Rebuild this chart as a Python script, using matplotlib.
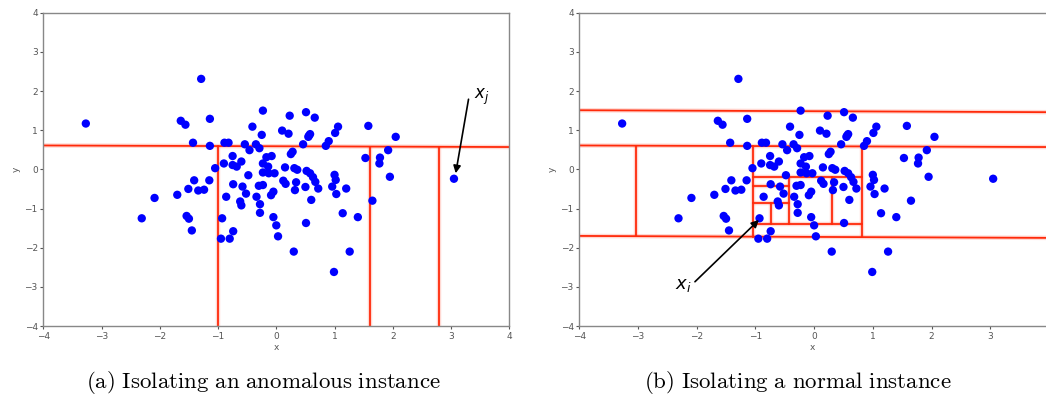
import numpy as np
import matplotlib.pyplot as plt

plt.rcParams['mathtext.fontset'] = 'dejavusans'

# Puntos (mismos en ambos paneles)
x = [-3.27, -1.29, -1.64, -1.56, -1.14, -1.43, -1.14, -0.89, -0.82, -0.54,
     -0.41, -0.46, -0.35, -0.29, -0.25, -0.23, 0.10, 0.21, 0.23, 0.51,
     0.66, 0.55, 0.58, 0.56, 0.46, 0.85, 0.90, 1.01, 1.06, 1.58,
     2.05, 1.92,
     1.53, 1.78, 1.77, 1.95, 1.65, 3.05, 1.00, 1.02, 0.96, 1.03,
     1.20, 1.14, 1.40, 1.26, 0.99,
     0.28, 0.25, -1.05, -0.90, -0.75, -0.75, -0.68, -0.60, -0.48, -0.17,
     -0.08, -0.23, -0.14, -0.23, -0.13, -0.03, 0.15, 0.31, 0.36, 0.12,
     0.16, 0.34, 0.32, 0.50, 0.52, 0.58, 0.63, 0.67, 0.72, 0.60,
     0.51, -0.74, -0.58, -0.52, -0.62, -0.60, -0.86, -0.34, -0.28, -0.28,
     -0.23, -0.30, -0.05, -0.09, -0.05, 0.00, 0.03, 0.30,
     -1.41, -1.15, -1.51, -1.34, -1.24, -1.70, -2.09, -2.31, -1.54, -1.50,
     -1.45, -0.93, -0.95, -0.80, -0.74]
y = [1.17, 2.31, 1.24, 1.14, 1.29, 0.68, 0.60, 0.68, 0.68, 0.64,
     1.09, 0.49, 0.64, 0.54, 0.88, 1.50, 0.99, 0.91, 1.37, 1.46,
     1.32, 0.83, 0.90, 0.86, 0.64, 0.60, 0.72, 0.93, 1.09, 1.11,
     0.83, 0.49,
     0.29, 0.30, 0.15, -0.19, -0.80, -0.24, -0.14, -0.27, -0.44, -0.63,
     -0.49, -1.12, -1.22, -2.10, -2.62,
     0.45, 0.39, 0.03, 0.15, 0.34, 0.11, 0.07, 0.20, -0.15, 0.31,
     0.34, 0.15, 0.07, -0.08, -0.10, -0.10, 0.05, 0.03, -0.01, -0.29,
     -0.37, -0.33, -0.53, -0.45, -0.04, -0.10, -0.20, -0.32, -0.49, -0.78,
     -1.37, -0.38, -0.44, -0.62, -0.82, -0.92, -0.70, -0.70, -0.89, -1.11,
     -0.40, -0.42, -0.57, -0.66, -1.22, -1.43, -1.71, -2.10,
     -0.28, -0.28, -0.50, -0.54, -0.52, -0.65, -0.73, -1.25, -1.19, -1.26,
     -1.56, -1.25, -1.77, -1.77, -1.58]

# Cortes del arbol (x0, y0, x1, y1)
cortes_a = [(-4, 0.61, 4, 0.57),
            (-1.0, -4, -1.0, 0.60),
            (1.6, -4, 1.6, 0.58),
            (2.8, -4, 2.8, 0.58)]
cortes_b = [(-4, 1.51, 3.95, 1.46),
            (-4, 0.61, 3.95, 0.57),
            (-4, -1.70, 3.95, -1.75),
            (-3.03, 0.60, -3.03, -1.71),
            (-1.04, 0.60, -1.04, -1.72),
            (0.82, 0.59, 0.82, -1.72),
            (-1.04, -0.19, 0.82, -0.19),
            (-1.04, -1.40, 0.82, -1.40),
            (-0.43, -0.19, -0.43, -1.40),
            (0.31, -0.19, 0.31, -1.40),
            (-1.04, -0.43, -0.43, -0.43),
            (-1.04, -0.87, -0.43, -0.87),
            (-0.73, -0.87, -0.73, -1.40)]

rojo = '#ff2a0a'

fig = plt.figure(figsize=(10.46, 4.0), dpi=100)
ax1 = fig.add_axes([43.3/1046, 74/400, 466/1046, 313.3/400])
ax2 = fig.add_axes([579.3/1046, 74/400, 466.7/1046, 313.3/400])

def panel(ax, cortes, xmax):
    for (x0, y0, x1, y1) in cortes:
        ax.plot([x0, x1], [y0, y1], color=rojo, lw=3.2, alpha=0.18,
                solid_capstyle='butt', zorder=1)
        ax.plot([x0, x1], [y0, y1], color=rojo, lw=1.3, zorder=2)
    ax.scatter(x, y, s=36, color='#0000ff', edgecolors='none', zorder=3)
    ax.set_xlim(-4, xmax)
    ax.set_ylim(-4, 4)
    ax.set_xticks(range(-4, int(np.floor(xmax)) + 1))
    ax.set_yticks(range(-4, 5))
    ax.tick_params(labelsize=6.5, colors='#555555', length=2.5, width=0.8,
                   pad=1.5)
    for s in ax.spines.values():
        s.set_color('#888888')
        s.set_linewidth(1.0)
    ax.set_xlabel('x', fontsize=6.5, color='#555555', labelpad=2)
    ax.set_ylabel('y', fontsize=6.5, color='#555555', labelpad=3)

panel(ax1, cortes_a, 4)
panel(ax2, cortes_b, 3.95)
ax2.spines['right'].set_visible(False)

flecha = dict(arrowstyle='-|>', color='black', lw=1.2, mutation_scale=11,
              shrinkA=0, shrinkB=0)
ax1.annotate('', xy=(3.08, -0.10), xytext=(3.30, 1.79), arrowprops=flecha)
ax1.text(3.52, 1.86, r'$x_j$', fontsize=12, ha='center', va='center')
ax2.annotate('', xy=(-0.94, -1.29), xytext=(-2.03, -2.87), arrowprops=flecha)
ax2.text(-2.23, -2.95, r'$x_i$', fontsize=13, ha='center', va='center')

plt.rcParams['mathtext.fontset'] = 'cm'
fig.text(263/1046, 1 - 383/400, r'$\mathrm{(a)\ Isolating\ an\ anomalous\ instance}$',
         fontsize=16.5, ha='center', va='center')
fig.text(798/1046, 1 - 383/400, r'$\mathrm{(b)\ Isolating\ a\ normal\ instance}$',
         fontsize=16.5, ha='center', va='center')

fig.savefig('out.png', dpi=100)
